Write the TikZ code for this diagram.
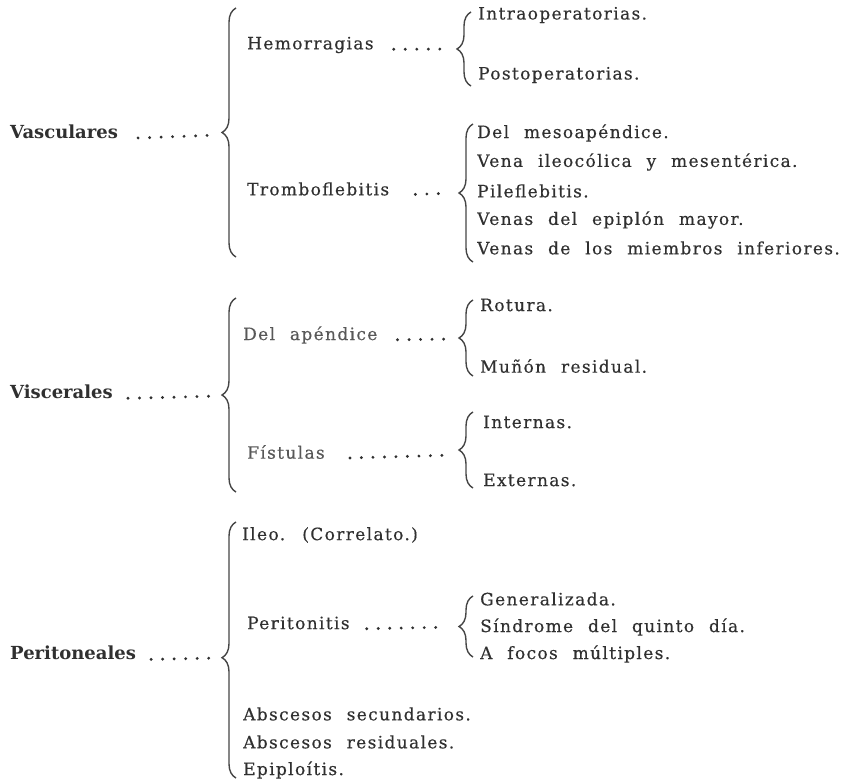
\documentclass[tikz,border=0pt]{standalone}
\usepackage{fontspec}
\setmainfont{DejaVu Serif}[WordSpace=2.2]
\usepackage{xcolor}
\usetikzlibrary{decorations.pathreplacing, positioning}

\definecolor{ink}{HTML}{303030}
\definecolor{inklight}{HTML}{585858}

\begin{document}
\begin{tikzpicture}[
    x=1pt, y=-1pt,
    cat/.style={font=\fontsize{18}{21}\selectfont\bfseries, text=ink, anchor=west, inner sep=0pt},
    item/.style={font=\fontsize{17}{20}\selectfont\addfontfeatures{LetterSpace=8,FakeBold=0.4}, text=ink, anchor=west, inner sep=0pt},
    sub/.style={item, text=inklight},
    brc/.style={decorate, decoration={brace, amplitude=14pt, aspect=#1}, draw=ink!90, line width=1.4pt},
    brc/.default=0.5,
    lead/.style={draw=ink, line width=3.2pt, line cap=round, dash pattern=on 0pt off 11.5pt, shorten <=#1, shorten >=9pt},
    lead/.default=20pt,
  ]
  \useasboundingbox (0,0) rectangle (853,783);
  % Vasculares
  \node[cat] (vasc) at (10,132) {Vasculares};
  \coordinate (vasc-tip) at (220,135);
  \draw[brc] (236,257) -- (236,8);
  \draw[lead] (vasc.base east) -- (vasc-tip);
  \node[item] (hemo) at (247,45) {Hemorragias};
  \coordinate (hemo-tip) at (455,49);
  \draw[brc] (471,86) -- (471,12);
  \draw[lead] (hemo.base east) -- (hemo-tip);
  \node[item] (intra) at (478,15) {Intraoperatorias.};
  \node[item] (post) at (478,75) {Postoperatorias.};
  \node[item] (trombo) at (247,189) {Tromboflebitis};
  \coordinate (trombo-tip) at (455,193);
  \draw[brc] (473,262) -- (473,124);
  \draw[lead=26pt] (trombo.base east) -- (trombo-tip);
  \node[item] (meso) at (477,133) {Del mesoapéndice.};
  \node[item] (ileo) at (477,162) {Vena ileocólica y mesentérica.};
  \node[item] (pile) at (477,191) {Pileflebitis.};
  \node[item] (epip) at (477,220) {Venas del epiplón mayor.};
  \node[item] (miem) at (477,248) {Venas de los miembros inferiores.};
  % Viscerales
  \node[cat] (visc) at (10,392) {Viscerales};
  \coordinate (visc-tip) at (220,396);
  \draw[brc] (236,492) -- (236,298);
  \draw[lead=15pt] (visc.base east) -- (visc-tip);
  \node[sub] (apen) at (243,335) {Del apéndice};
  \coordinate (apen-tip) at (455,339);
  \draw[brc] (473,376) -- (473,300);
  \draw[lead] (apen.base east) -- (apen-tip);
  \node[item] (rot) at (480,305) {Rotura.};
  \node[item] (mun) at (480,366) {Muñón residual.};
  \node[sub] (fist) at (247,452) {Fístulas};
  \coordinate (fist-tip) at (455,455);
  \draw[brc] (473,488) -- (473,412);
  \draw[lead=25pt] (fist.base east) -- (fist-tip);
  \node[item] (inter) at (483,422) {Internas.};
  \node[item] (exter) at (483,480) {Externas.};
  % Peritoneales
  \node[cat] (peri) at (10,653) {Peritoneales};
  \coordinate (peri-tip) at (219,658);
  \draw[brc=0.47] (236,778) -- (236,522);
  \draw[lead=15pt] (peri.base east) -- (peri-tip);
  \node[item] (ileus) at (242,535) {Ileo. (Correlato.)};
  \node[item] (perit) at (247,623) {Peritonitis};
  \coordinate (perit-tip) at (455,627);
  \draw[brc] (473,657) -- (473,596);
  \draw[lead=17pt] (perit.base east) -- (perit-tip);
  \node[item] (gen) at (480,599) {Generalizada.};
  \node[item] (sind) at (480,627) {Síndrome del quinto día.};
  \node[item] (focos) at (480,654) {A focos múltiples.};
  \node[item] (absec) at (243,714) {Abscesos secundarios.};
  \node[item] (absre) at (243,742) {Abscesos residuales.};
  \node[item] (epipl) at (243,770) {Epiploítis.};
\end{tikzpicture}
\end{document}
